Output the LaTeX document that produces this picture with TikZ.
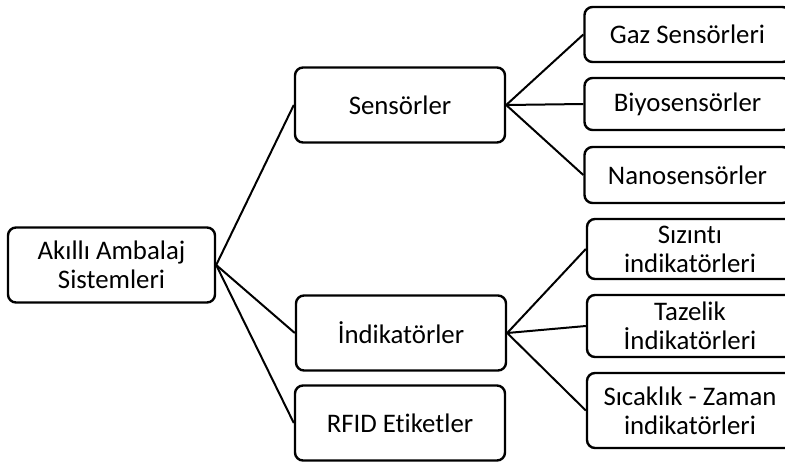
\documentclass[tikz,border=0pt]{standalone}
\usepackage{fontspec}
\setmainfont{Carlito}[Ligatures=NoCommon]
\usetikzlibrary{positioning}

\begin{document}
\begin{tikzpicture}[
    x=0.5pt, y=-0.5pt,
    every node/.style={align=center, font=\fontsize{13.4}{14.5}\selectfont},
    rootbox/.style={rectangle, rounded corners=4pt, draw, line width=1.2pt, inner sep=0pt, minimum width=103.5pt, minimum height=37.5pt},
    midbox/.style={rectangle, rounded corners=4pt, draw, line width=1.2pt, inner sep=0pt, minimum width=105pt, minimum height=37.5pt},
    leafbox/.style={rectangle, rounded corners=4pt, draw, line width=1.2pt, inner sep=0pt, minimum width=103pt},
    link/.style={line width=1pt}
]
\useasboundingbox (0,0) rectangle (785,461);
\clip (0,0) rectangle (785,461);

% Nodes
\node[rootbox] (akilli) at (111.5,265) {Akıllı Ambalaj\\Sistemleri};
\node[midbox] (sensor) at (400,105) {Sensörler};
\node[midbox] (indik) at (401,333) {İndikatörler};
\node[midbox] (rfid) at (400,423) {RFID Etiketler};

\node[leafbox, minimum height=27.5pt] (gaz) at (687.5,34.5) {Gaz Sensörleri};
\node[leafbox, minimum height=26pt] (biyo) at (687.5,104) {Biyosensörler};
\node[leafbox, minimum height=28pt] (nano) at (687.5,175) {Nanosensörler};
\node[leafbox, minimum height=30pt] (sizinti) at (690,249) {Sızıntı\\indikatörleri};
\node[leafbox, minimum height=31pt] (tazelik) at (690,326) {Tazelik\\İndikatörleri};
\node[leafbox, minimum height=37.5pt] (sicaklik) at (690,410.5) {Sıcaklık - Zaman\\indikatörleri};

% Connections
\draw[link] (akilli.east) -- (sensor.west);
\draw[link] (akilli.east) -- (indik.west);
\draw[link] (akilli.east) -- (rfid.west);
\draw[link] (sensor.east) -- (gaz.west);
\draw[link] (sensor.east) -- (biyo.west);
\draw[link] (sensor.east) -- (nano.west);
\draw[link] (indik.east) -- (sizinti.west);
\draw[link] (indik.east) -- (tazelik.west);
\draw[link] (indik.east) -- (sicaklik.west);

\end{tikzpicture}
\end{document}
